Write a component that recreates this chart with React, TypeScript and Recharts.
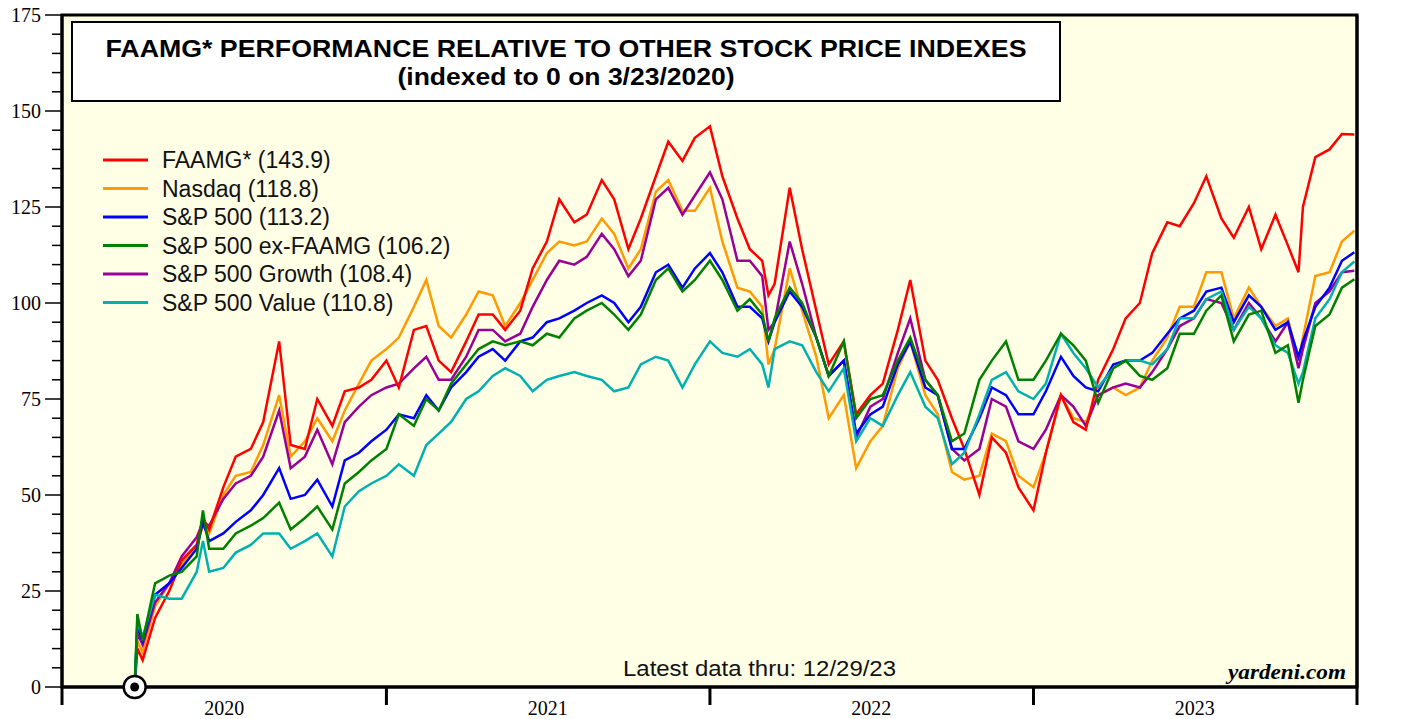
import React from 'react';
import {
  LineChart,
  Line,
  XAxis,
  YAxis,
  CartesianGrid,
  ReferenceArea,
  ReferenceDot,
  Legend,
} from 'recharts';

// ---------- DATA ----------
const dates = [
  '2020-03-23', '2020-03-26', '2020-04-01', '2020-04-15', '2020-05-01', '2020-05-15', '2020-06-01', '2020-06-08', '2020-06-15',
  '2020-07-01', '2020-07-15', '2020-08-01', '2020-08-15', '2020-09-02', '2020-09-15', '2020-10-01', '2020-10-15', '2020-11-01', '2020-11-15', '2020-12-01', '2020-12-15',
  '2021-01-01', '2021-01-15', '2021-02-01', '2021-02-15', '2021-03-01', '2021-03-15',
  '2021-04-01', '2021-04-15', '2021-05-01', '2021-05-15', '2021-06-01', '2021-06-15', '2021-07-01', '2021-07-15', '2021-08-01', '2021-08-15', '2021-09-01', '2021-09-15', '2021-10-01', '2021-10-15', '2021-11-01', '2021-11-15', '2021-12-01', '2021-12-15',
  '2022-01-01', '2022-01-15', '2022-02-01', '2022-02-15', '2022-03-01', '2022-03-08', '2022-03-15',
  '2022-04-01', '2022-04-15', '2022-05-01', '2022-05-15', '2022-06-01', '2022-06-15', '2022-07-01', '2022-07-15', '2022-08-01', '2022-08-15', '2022-09-01', '2022-09-15', '2022-10-01', '2022-10-15', '2022-11-01', '2022-11-15', '2022-12-01', '2022-12-15',
  '2023-01-01', '2023-01-15', '2023-02-01', '2023-02-15', '2023-03-01', '2023-03-15', '2023-04-01', '2023-04-15', '2023-05-01', '2023-05-15', '2023-06-01', '2023-06-15', '2023-07-01', '2023-07-15', '2023-08-01', '2023-08-15', '2023-09-01', '2023-09-15', '2023-10-01', '2023-10-15', '2023-10-27',
  '2023-11-01', '2023-11-15', '2023-12-01', '2023-12-15', '2023-12-29',
];

const faamgValues = [
  0, 10, 7, 18, 25, 33, 37, 44, 41,
  52, 60, 62, 69, 90, 63, 62, 75, 68, 77, 78, 80,
  85, 78, 93, 94, 85, 82,
  90, 97, 97, 93, 98, 109, 116, 127, 121, 123, 132, 127, 114, 122, 133, 142, 137, 143,
  146, 133, 122, 114, 111, 102, 105,
  130, 114, 98, 84, 90, 71, 76, 79, 93, 106, 85, 80, 70, 62, 50, 65, 61, 52,
  46, 61, 76, 69, 67, 80, 88, 96, 100, 113, 121, 120, 126, 133, 122, 117, 125, 114, 123, 115, 108,
  125, 138, 140, 144, 143.9,
];

const nasdaqValues = [
  0, 12, 9, 21, 27, 32, 37, 42, 40,
  50, 55, 56, 63, 76, 60, 64, 70, 64, 72, 79, 85,
  88, 91, 99, 106, 94, 91,
  97, 103, 102, 94, 100, 106, 113, 116, 115, 116, 122, 118, 109, 114, 129, 132, 124, 124,
  130, 116, 104, 103, 99, 84, 88,
  109, 98, 86, 70, 76, 57, 64, 68, 83, 90, 76, 71, 56, 54, 55, 66, 64, 55,
  52, 61, 76, 70, 69, 76, 78, 76, 78, 85, 91, 99, 99, 108, 108, 96, 104, 99, 94, 96, 85,
  91, 107, 108, 116, 118.8,
];

const sp500Values = [
  0, 16, 12, 24, 27, 31, 36, 43, 38,
  40, 43, 46, 50, 57, 49, 50, 54, 47, 59, 61, 64,
  67, 71, 70, 76, 72, 78,
  82, 86, 88, 85, 90, 91, 95, 96, 98, 100, 102, 100, 95, 99, 108, 110, 104, 109,
  113, 108, 99, 99, 96, 90, 95,
  103, 99, 91, 81, 85, 66, 71, 73, 84, 90, 78, 76, 62, 62, 70, 78, 76, 71,
  71, 77, 86, 81, 78, 77, 84, 85, 85, 87, 92, 96, 98, 103, 104, 95, 102, 99, 93, 95, 86,
  90, 99, 104, 111, 113.2,
];

const exFaamgValues = [
  0, 19, 12, 27, 29, 30, 34, 46, 36,
  36, 40, 42, 44, 48, 41, 44, 47, 41, 53, 56, 59,
  62, 71, 68, 75, 72, 79,
  84, 88, 90, 89, 90, 89, 92, 91, 96, 98, 100, 97, 93, 97, 106, 109, 103, 106,
  111, 106, 98, 101, 97, 90, 96,
  104, 100, 91, 81, 90, 70, 75, 76, 85, 91, 80, 76, 64, 66, 80, 85, 90, 80,
  80, 85, 92, 89, 85, 74, 83, 85, 81, 80, 83, 92, 92, 98, 102, 90, 97, 98, 87, 89, 74,
  80, 94, 97, 104, 106.2,
];

const growthValues = [
  0, 14, 11, 22, 27, 34, 39, 43, 42,
  49, 53, 55, 60, 72, 57, 60, 67, 58, 69, 73, 76,
  78, 79, 83, 86, 80, 80,
  86, 93, 93, 90, 92, 99, 106, 111, 110, 112, 118, 114, 107, 111, 127, 130, 123, 128,
  134, 127, 111, 111, 107, 93, 95,
  116, 105, 91, 81, 85, 65, 73, 75, 87, 96, 80, 76, 62, 59, 62, 75, 73, 64,
  62, 67, 76, 73, 68, 76, 78, 79, 78, 82, 88, 94, 96, 101, 100, 93, 100, 96, 90, 95, 83,
  88, 100, 103, 108, 108.4,
];

const valueValues = [
  0, 17, 13, 24, 23, 23, 30, 38, 30,
  31, 35, 37, 40, 40, 36, 38, 40, 34, 47, 51, 53,
  55, 58, 55, 63, 66, 69,
  75, 77, 81, 83, 81, 77, 80, 81, 82, 81, 80, 77, 78, 84, 86, 85, 78, 84,
  90, 87, 86, 88, 84, 78, 88,
  90, 89, 82, 77, 83, 64, 70, 68, 76, 82, 73, 70, 58, 61, 71, 80, 82, 77,
  75, 79, 92, 87, 83, 78, 83, 85, 85, 84, 88, 96, 96, 101, 103, 93, 99, 96, 89, 87, 79,
  82, 96, 101, 108, 110.8,
];

const seriesNames = [
  'FAAMG* (143.9)',
  'Nasdaq (118.8)',
  'S&P 500 (113.2)',
  'S&P 500 ex-FAAMG (106.2)',
  'S&P 500 Growth (108.4)',
  'S&P 500 Value (110.8)',
];

const yearLabels = ['2020', '2021', '2022', '2023'];
const yearBoundaries = ['2020-01-01', '2021-01-01', '2022-01-01', '2023-01-01', '2024-01-01'];
const yearLabelDates = ['2020-07-02', '2021-07-02', '2022-07-02', '2023-07-02'];
const yMajorTicks = [0, 25, 50, 75, 100, 125, 150, 175];
const yAllTicks = [
  0, 5, 10, 15, 20, 25, 30, 35, 40, 45, 50, 55, 60, 65, 70, 75, 80, 85, 90, 95, 100,
  105, 110, 115, 120, 125, 130, 135, 140, 145, 150, 155, 160, 165, 170, 175,
];

// ---------- STYLE / CONFIG ----------
const SANS = '"Liberation Sans", Arial, Helvetica, sans-serif';
const SERIF = '"Liberation Serif", "Times New Roman", Times, serif';

const series = [
  { key: 'faamg', name: seriesNames[0], color: '#FF0000', values: faamgValues },
  { key: 'nasdaq', name: seriesNames[1], color: '#FF9A00', values: nasdaqValues },
  { key: 'sp500', name: seriesNames[2], color: '#0000FF', values: sp500Values },
  { key: 'exfaamg', name: seriesNames[3], color: '#008000', values: exFaamgValues },
  { key: 'growth', name: seriesNames[4], color: '#990099', values: growthValues },
  { key: 'value', name: seriesNames[5], color: '#00B0B0', values: valueValues },
];
const drawOrder = ['nasdaq', 'growth', 'faamg', 'sp500', 'value', 'exfaamg'];

const ts = (d: string) => Date.parse(d + 'T00:00:00Z');

const data = dates.map((d, i) => {
  const row: Record<string, number> = { t: ts(d) };
  series.forEach((s) => {
    row[s.key] = s.values[i];
  });
  return row;
});

const boundaryTs = yearBoundaries.map(ts);
const labelTs = yearLabelDates.map(ts);
const xTicks = [...boundaryTs, ...labelTs].sort((a, b) => a - b);

const LeftTick = (props: any) => {
  const { x, y, payload } = props;
  const v = payload.value;
  const major = yMajorTicks.includes(v);
  return (
    <g>
      <line x1={x - (major ? 17 : 10)} x2={x} y1={y} y2={y} stroke="#000" strokeWidth={1.5} />
      {major && (
        <text x={x - 21} y={y} dy={7} textAnchor="end" fontFamily={SERIF} fontSize={20} fill="#000">
          {v}
        </text>
      )}
    </g>
  );
};

const RightTick = (props: any) => {
  const { x, y, payload } = props;
  const v = payload.value;
  const major = yMajorTicks.includes(v);
  return (
    <g>
      <line x1={x} x2={x + (major ? 16 : 9)} y1={y} y2={y} stroke="#000" strokeWidth={1.5} />
      {major && (
        <text x={x + 21} y={y} dy={7} textAnchor="start" fontFamily={SERIF} fontSize={20} fill="#000">
          {v}
        </text>
      )}
    </g>
  );
};

const XTick = (props: any) => {
  const { x, y, payload } = props;
  const idx = labelTs.indexOf(payload.value);
  if (idx >= 0) {
    return (
      <text x={x} y={y + 28} textAnchor="middle" fontFamily={SERIF} fontSize={20} fill="#000">
        {yearLabels[idx]}
      </text>
    );
  }
  return <line x1={x} x2={x} y1={y} y2={y + 18} stroke="#000" strokeWidth={3} />;
};

const StartMarker = (props: any) => {
  const { cx, cy } = props;
  return (
    <g>
      <circle cx={cx} cy={cy} r={11} fill="#FFFFFF" stroke="#000" strokeWidth={2.5} />
      <circle cx={cx} cy={cy} r={4.5} fill="#000" />
    </g>
  );
};

const LegendContent = () => (
  <svg width={420} height={180} style={{ overflow: 'visible' }}>
    {series.map((s, i) => {
      const cy = 15 + i * 28.5;
      return (
        <g key={s.key}>
          <line x1={8} x2={53} y1={cy} y2={cy} stroke={s.color} strokeWidth={3} />
          <text x={67} y={cy + 8} fontFamily={SANS} fontSize={23} fill="#111">
            {s.name}
          </text>
        </g>
      );
    })}
  </svg>
);

export default function App() {
  return (
    <div style={{ position: 'relative', width: 1425, height: 719, background: '#fff' }}>
      <style>{`body{margin:0;background:#fff;}`}</style>
      <LineChart
        width={1425}
        height={719}
        data={data}
        margin={{ top: 15, right: 0, bottom: 0, left: 0 }}
      >
        <CartesianGrid horizontal={false} vertical={false} fill="#FFFFE6" yAxisId="left" />
        <XAxis
          dataKey="t"
          type="number"
          domain={[boundaryTs[0], boundaryTs[boundaryTs.length - 1]]}
          ticks={xTicks}
          interval={0}
          tick={<XTick />}
          tickLine={false}
          tickSize={0}
          tickMargin={0}
          height={32}
          axisLine={{ stroke: '#000', strokeWidth: 3 }}
          allowDataOverflow
        />
        <YAxis
          yAxisId="left"
          orientation="left"
          type="number"
          domain={[0, 175]}
          ticks={yAllTicks}
          interval={0}
          width={62}
          tick={<LeftTick />}
          tickLine={false}
          tickSize={0}
          tickMargin={0}
          axisLine={{ stroke: '#000', strokeWidth: 3 }}
        />
        <YAxis
          yAxisId="right"
          orientation="right"
          type="number"
          domain={[0, 175]}
          ticks={yAllTicks}
          interval={0}
          width={68}
          tick={<RightTick />}
          tickLine={false}
          tickSize={0}
          tickMargin={0}
          axisLine={{ stroke: '#000', strokeWidth: 3 }}
        />
        <ReferenceArea
          yAxisId="left"
          x1={boundaryTs[0]}
          x2={boundaryTs[boundaryTs.length - 1]}
          y1={0}
          y2={175}
          fill="none"
          fillOpacity={0}
          stroke="#000"
          strokeWidth={3}
          strokeOpacity={1}
          ifOverflow="visible"
        />
        {drawOrder.map((k) => {
          const s = series.find((q) => q.key === k)!;
          return (
            <Line
              key={s.key}
              yAxisId="left"
              type="linear"
              dataKey={s.key}
              name={s.name}
              stroke={s.color}
              strokeWidth={2.5}
              dot={false}
              activeDot={false}
              isAnimationActive={false}
            />
          );
        })}
        <ReferenceDot yAxisId="left" x={data[0].t} y={0} r={11} shape={<StartMarker />} ifOverflow="visible" />
        <Legend
          layout="vertical"
          align="center"
          verticalAlign="middle"
          content={<LegendContent />}
          wrapperStyle={{ position: 'absolute', left: 95, top: 145, width: 420, height: 180 }}
        />
      </LineChart>
      <svg
        width={1425}
        height={719}
        style={{ position: 'absolute', left: 0, top: 0, pointerEvents: 'none' }}
      >
        <rect x={72} y={22} width={988} height={79} fill="#FFFFFF" stroke="#000" strokeWidth={2} />
        <text
          x={566}
          y={57}
          textAnchor="middle"
          fontFamily={SANS}
          fontWeight="bold"
          fontSize={24}
          textLength={921}
          lengthAdjust="spacingAndGlyphs"
          fill="#000"
        >
          FAAMG* PERFORMANCE RELATIVE TO OTHER STOCK PRICE INDEXES
        </text>
        <text
          x={566}
          y={85}
          textAnchor="middle"
          fontFamily={SANS}
          fontWeight="bold"
          fontSize={24}
          textLength={337}
          lengthAdjust="spacingAndGlyphs"
          fill="#000"
        >
          (indexed to 0 on 3/23/2020)
        </text>
        <text
          x={759.5}
          y={676}
          textAnchor="middle"
          fontFamily={SANS}
          fontSize={22}
          textLength={273}
          lengthAdjust="spacingAndGlyphs"
          fill="#111"
        >
          Latest data thru: 12/29/23
        </text>
        <text
          x={1346}
          y={679}
          textAnchor="end"
          fontFamily={SERIF}
          fontWeight="bold"
          fontStyle="italic"
          fontSize={22}
          textLength={118}
          lengthAdjust="spacingAndGlyphs"
          fill="#000"
        >
          yardeni.com
        </text>
      </svg>
    </div>
  );
}
